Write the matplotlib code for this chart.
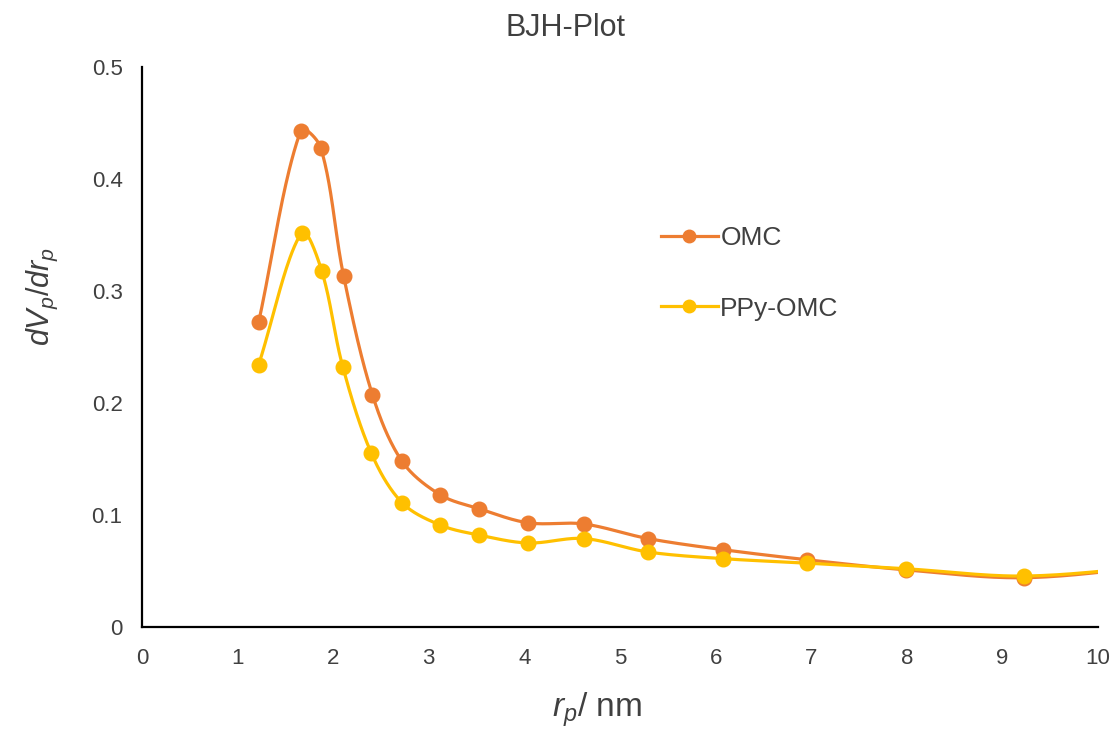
import numpy as np
import matplotlib
matplotlib.use("Agg")
import matplotlib.pyplot as plt

plt.rcParams['font.family'] = ['Liberation Sans', 'DejaVu Sans']
plt.rcParams['mathtext.fontset'] = 'custom'
plt.rcParams['mathtext.rm'] = 'Liberation Sans'
plt.rcParams['mathtext.it'] = 'Liberation Sans:italic'

# Data
rp_omc = [1.22, 1.66, 1.87, 2.11, 2.41, 2.72, 3.12, 3.53, 4.04, 4.62, 5.29, 6.08, 6.96, 7.99, 9.23, 10.7]
dv_omc = [0.272, 0.443, 0.428, 0.313, 0.2075, 0.148, 0.118, 0.1055, 0.093, 0.092, 0.079, 0.069, 0.060, 0.051, 0.044, 0.055]
rp_ppy = [1.22, 1.67, 1.88, 2.10, 2.40, 2.72, 3.12, 3.53, 4.04, 4.62, 5.29, 6.08, 6.96, 7.99, 9.23, 10.7]
dv_ppy = [0.234, 0.352, 0.318, 0.2325, 0.155, 0.111, 0.091, 0.082, 0.075, 0.079, 0.067, 0.061, 0.057, 0.052, 0.0455, 0.055]
labels = ['OMC', 'PPy-OMC']
colors = ['#ED7D31', '#FFC000']
xticks = [0, 1, 2, 3, 4, 5, 6, 7, 8, 9, 10]
yticks = [0, 0.1, 0.2, 0.3, 0.4, 0.5]

TXT = '#404040'

fig = plt.figure(figsize=(11.16, 7.30), dpi=100)
ax = fig.add_axes([0.1272, 0.1411, 0.8567, 0.7672])
ax.set_xlim(0, 10)
ax.set_ylim(0, 0.5)


def smooth(x, y, n=40):
    """Excel-like Bezier smoothing computed in display space."""
    P = ax.transData.transform(np.column_stack([x, y]))
    m = len(P)
    out = []
    for i in range(m - 1):
        p0 = P[max(i - 1, 0)]; p1 = P[i]; p2 = P[i + 1]; p3 = P[min(i + 2, m - 1)]
        d01 = np.linalg.norm(p1 - p0); d12 = np.linalg.norm(p2 - p1); d23 = np.linalg.norm(p3 - p2)
        f1 = d12 / (3.0 * (d01 + d12)) if d01 + d12 > 0 else 0
        f2 = d12 / (3.0 * (d12 + d23)) if d12 + d23 > 0 else 0
        c1 = p1 + (p2 - p0) * f1
        c2 = p2 - (p3 - p1) * f2
        t = np.linspace(0, 1, n)[:, None]
        pts = ((1 - t) ** 3) * p1 + 3 * ((1 - t) ** 2) * t * c1 + 3 * (1 - t) * t ** 2 * c2 + t ** 3 * p2
        out.append(pts)
    out = np.vstack(out)
    D = ax.transData.inverted().transform(out)
    return D[:, 0], D[:, 1]


for xs, ysr, lab, c in [(rp_omc, dv_omc, labels[0], colors[0]), (rp_ppy, dv_ppy, labels[1], colors[1])]:
    sx, sy = smooth(xs, ysr)
    ax.plot(sx, sy, color=c, lw=2.3, zorder=2)
    xm = [a for a in xs if a <= 10]
    ym = [b for a, b in zip(xs, ysr) if a <= 10]
    ax.plot(xm, ym, 'o', color=c, ms=10.5, zorder=3)
    ax.plot([], [], '-o', color=c, lw=2.3, ms=9, label=lab)

ax.set_xticks(xticks)
ax.set_xticklabels([str(v) for v in xticks])
ax.set_yticks(yticks)
ax.set_yticklabels(['0' if v == 0 else f'{v:.1f}' for v in yticks])
ax.tick_params(length=0, labelsize=16, colors=TXT)
ax.tick_params(axis='x', pad=15)
ax.tick_params(axis='y', pad=14)
for s in ['top', 'right']:
    ax.spines[s].set_visible(False)
for s in ['left', 'bottom']:
    ax.spines[s].set_color('black')
    ax.spines[s].set_linewidth(1.6)

fig.text(566 / 1116, 1 - 28 / 730, 'BJH-Plot', fontsize=22, color=TXT, ha='center', va='center')
fig.text(597 / 1116, 1 - 717 / 730, r'$r_p$/ nm', fontsize=24, color=TXT, ha='center', va='baseline')
fig.text(42 / 1116, 1 - 297 / 730, r'$dV_p/dr_p$', fontsize=22, color=TXT, ha='center', va='center',
         rotation=90)

leg = ax.legend(loc='center left', bbox_to_anchor=(661 / 1116, 1 - 273.5 / 730),
                bbox_transform=fig.transFigure, frameon=False, borderpad=0, borderaxespad=0,
                fontsize=19, labelspacing=1.75, handlelength=2.15, handletextpad=0.1)
for t in leg.get_texts():
    t.set_color(TXT)

fig.savefig('out.png', dpi=100)
